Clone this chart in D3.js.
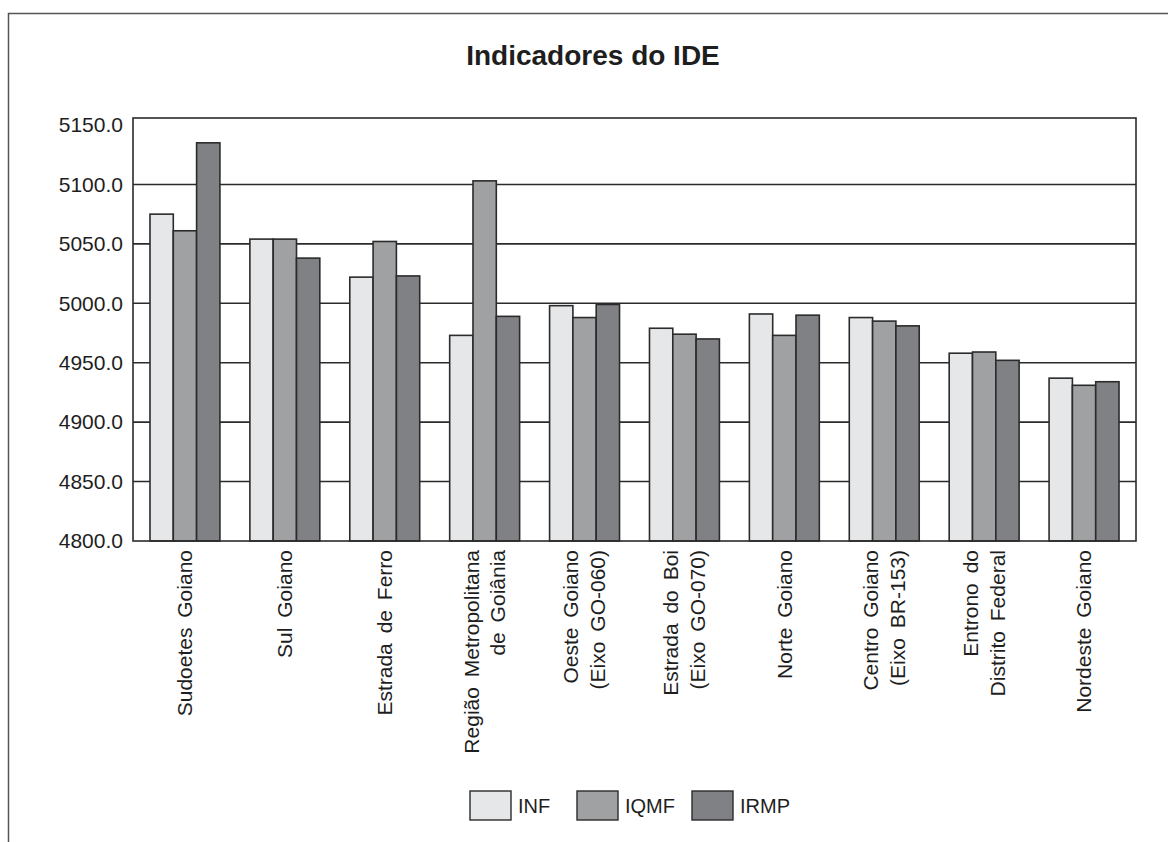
<!DOCTYPE html>
<html>
<head>
<meta charset="utf-8">
<script src="https://cdn.jsdelivr.net/npm/d3@7/dist/d3.min.js"></script>
<style>
  html, body { margin: 0; padding: 0; background: #fff; }
  svg { display: block; font-family: "Liberation Sans", Arial, sans-serif; }
</style>
</head>
<body>
<svg id="chart" width="1168" height="842"></svg>
<script>
const categories = [
  ["Sudoetes Goiano"],
  ["Sul Goiano"],
  ["Estrada de Ferro"],
  ["Região Metropolitana", "de Goiânia"],
  ["Oeste Goiano", "(Eixo GO-060)"],
  ["Estrada do Boi", "(Eixo GO-070)"],
  ["Norte Goiano"],
  ["Centro Goiano", "(Eixo BR-153)"],
  ["Entrono do", "Distrito Federal"],
  ["Nordeste Goiano"]
];
const seriesNames = ["INF", "IQMF", "IRMP"];
const INF  = [5075, 5054, 5022, 4973, 4998, 4979, 4991, 4988, 4958, 4937];
const IQMF = [5061, 5054, 5052, 5103, 4988, 4974, 4973, 4985, 4959, 4931];
const IRMP = [5135, 5038, 5023, 4989, 4999, 4970, 4990, 4981, 4952, 4934];
const yTicks = [4800, 4850, 4900, 4950, 5000, 5050, 5100, 5150];
const colors = ["#e6e7e8", "#a0a1a3", "#808185"];

const series = [INF, IQMF, IRMP];
const svg = d3.select("#chart");
const W = 1168, H = 842;
const plot = { left: 133, right: 1136, top: 118, bottom: 541, scaleTop: 125 };
const ink = "#2b2b2b";
const txt = "#1e1e1e";

// outer frame (left and top edges only visible)
svg.append("path")
  .attr("d", `M8.5,${H} V13.5 H${W}`)
  .attr("fill", "none").attr("stroke", "#555").attr("stroke-width", 1.5);

// title
svg.append("text")
  .attr("x", 593).attr("y", 65)
  .attr("text-anchor", "middle")
  .attr("font-size", 28).attr("font-weight", "bold").attr("fill", txt)
  .text("Indicadores do IDE");

const keys = categories.map((c, i) => i);
const x0 = d3.scaleBand().domain(keys).range([plot.left, plot.right])
  .paddingInner(0.3).paddingOuter(0.17);
const x1 = d3.scaleBand().domain(seriesNames).range([0, x0.bandwidth()]);
const y = d3.scaleLinear().domain([4800, 5150]).range([plot.bottom, plot.scaleTop]);

// gridlines
svg.append("g")
  .selectAll("line").data(yTicks.slice(1, -1)).join("line")
  .attr("x1", plot.left).attr("x2", plot.right)
  .attr("y1", d => y(d)).attr("y2", d => y(d))
  .attr("stroke", ink).attr("stroke-width", 1.6);

// bars
const groups = svg.append("g").selectAll("g").data(keys).join("g")
  .attr("transform", d => `translate(${x0(d)},0)`);
groups.selectAll("rect")
  .data(i => seriesNames.map((s, k) => ({ s, k, v: series[k][i] })))
  .join("rect")
  .attr("x", d => x1(d.s))
  .attr("width", x1.bandwidth())
  .attr("y", d => y(d.v))
  .attr("height", d => y(4800) - y(d.v))
  .attr("fill", d => colors[d.k])
  .attr("stroke", ink).attr("stroke-width", 1.6);

// plot frame
svg.append("rect")
  .attr("x", plot.left).attr("y", plot.top)
  .attr("width", plot.right - plot.left).attr("height", plot.bottom - plot.top)
  .attr("fill", "none").attr("stroke", ink).attr("stroke-width", 1.6);

// y axis labels
const yAxis = d3.axisLeft(y).tickValues(yTicks).tickFormat(d3.format(".1f")).tickSize(0).tickPadding(10);
const gy = svg.append("g").attr("transform", `translate(${plot.left},0)`).call(yAxis);
gy.select(".domain").remove();
gy.selectAll("text").attr("font-size", 21).attr("fill", txt)
  .attr("font-family", "'Liberation Sans', Arial, sans-serif");

// x labels (rotated)
const lineGap = 27;
const xl = svg.append("g").selectAll("text").data(keys).join("text")
  .attr("transform", d => `translate(${x0(d) + x0.bandwidth() / 2},${plot.bottom + 9}) rotate(-90)`)
  .attr("text-anchor", "end")
  .attr("font-size", 21).attr("fill", txt)
  .attr("word-spacing", 4);
xl.each(function(d) {
  const lines = categories[d];
  const n = lines.length;
  d3.select(this).selectAll("tspan").data(lines).join("tspan")
    .attr("x", 0)
    .attr("y", (l, j) => (j - (n - 1) / 2) * lineGap)
    .attr("dy", "0.35em")
    .text(l => l);
});

// legend
const legendX = [470, 577, 692];
const lg = svg.append("g").selectAll("g").data(seriesNames).join("g")
  .attr("transform", (d, i) => `translate(${legendX[i]},791)`);
lg.append("rect").attr("width", 41).attr("height", 29)
  .attr("fill", (d, i) => colors[i]).attr("stroke", ink).attr("stroke-width", 1.4);
lg.append("text").attr("x", 48).attr("y", 22)
  .attr("font-size", 20).attr("fill", txt).text(d => d);
</script>
</body>
</html>
